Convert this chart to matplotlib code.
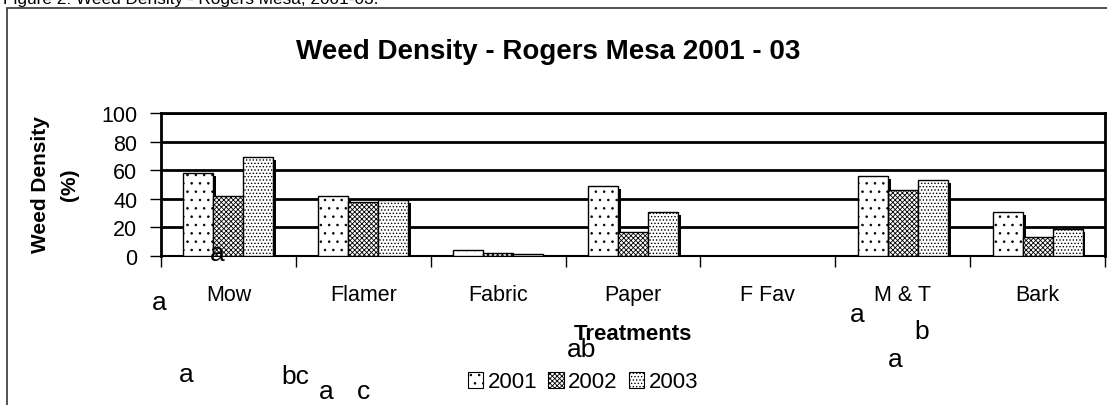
import numpy as np
import matplotlib.pyplot as plt
from matplotlib.patches import Rectangle, Patch

plt.rcParams['font.family'] = ['Liberation Sans', 'DejaVu Sans']
plt.rcParams['hatch.linewidth'] = 0.6

treatments = ["Mow", "Flamer", "Fabric", "Paper", "F Fav", "M & T", "Bark"]
years = ["2001", "2002", "2003"]
d2001 = [58, 42, 4, 49, 0, 56, 31]
d2002 = [42, 38, 2, 17, 0, 46, 13]
d2003 = [69, 39, 1.5, 31, 0, 53, 19]
y_ticks = [0, 20, 40, 60, 80, 100]

# stray significance letters (figure pixel positions as in the source page)
letters = ["a", "a", "a", "bc", "a", "c", "ab", "a", "b", "a"]
letter_x = [217, 159, 186, 295, 326, 363, 582, 857, 922, 895]
letter_y = [254, 303, 375, 377, 392, 392, 350, 315, 332, 360]

W, H = 1107, 406
fig = plt.figure(figsize=(W / 100, H / 100), dpi=100)
ax = fig.add_axes([161 / W, 1 - 257 / H, 944 / W, 143 / H])

series = [d2001, d2002, d2003]
hatches = ["..", "xxxxxxx", "....."]
bw = 30 / 135
x = np.arange(len(treatments)) + 0.5
offsets = [-bw, 0, bw]

# drop shadows behind the bars
for vals, off in zip(series, offsets):
    vals = np.array(vals, dtype=float)
    sh = np.clip(vals - 2.1, 0, None)
    ax.bar(x + off + 0.022, sh, bw, color="black", lw=0, zorder=2)
for i, (vals, off, hat) in enumerate(zip(series, offsets, hatches)):
    ax.bar(x + off, vals, bw, facecolor="white", edgecolor="black",
           hatch=hat, lw=1.0, zorder=3 + i)

ax.set_xlim(0, len(treatments))
ax.set_ylim(0, 100)
ax.set_yticks(y_ticks)
ax.set_yticklabels([str(v) for v in y_ticks], fontsize=15.5)
ax.yaxis.grid(True, color="black", lw=2)
ax.set_axisbelow(True)

ax.set_xticks(np.arange(len(treatments) + 1))
ax.set_xticklabels([])
ax.set_xticks(x, minor=True)
ax.set_xticklabels(treatments, minor=True, fontsize=15.5)
ax.tick_params(axis="x", which="minor", length=0, pad=20)
ax.tick_params(axis="x", which="major", length=8, width=1, direction="out")
ax.tick_params(axis="y", length=8, width=1, direction="out", pad=9)

for s in ["left", "top", "right"]:
    ax.spines[s].set_linewidth(2)
ax.spines["bottom"].set_linewidth(1.5)

fig.text(548 / W, 1 - 52 / H, "Weed Density - Rogers Mesa 2001 - 03",
         ha="center", va="center", fontsize=20, fontweight="bold")
fig.text(40 / W, 1 - 185 / H, "Weed Density", rotation=90,
         ha="center", va="center", fontsize=15, fontweight="bold")
fig.text(70 / W, 1 - 185 / H, "(%)", rotation=90,
         ha="center", va="center", fontsize=15, fontweight="bold")
fig.text(633 / W, 1 - 335 / H, "Treatments",
         ha="center", va="center", fontsize=16, fontweight="bold")
fig.text(3 / W, 1 - 4 / H, "Figure 2: Weed Density - Rogers Mesa, 2001-03.",
         ha="left", va="baseline", fontsize=12.4)

for t, lx, ly in zip(letters, letter_x, letter_y):
    fig.text(lx / W, 1 - ly / H, t, ha="center", va="center", fontsize=19)

handles = [Patch(facecolor="white", edgecolor="black", hatch=h, lw=0.8)
           for h in hatches]
fig.legend(handles, years, loc="center", bbox_to_anchor=(583 / W, 1 - 383 / H),
           ncol=3, frameon=False, fontsize=16, handlelength=0.7,
           handleheight=0.7, handletextpad=0.2, columnspacing=0.5)

fig.patches.append(Rectangle((7 / W, -0.1), 1.2, 1.1 - 9 / H,
                             transform=fig.transFigure, fill=False,
                             edgecolor="#333333", lw=1.2))

plt.savefig("out.png", dpi=100)
